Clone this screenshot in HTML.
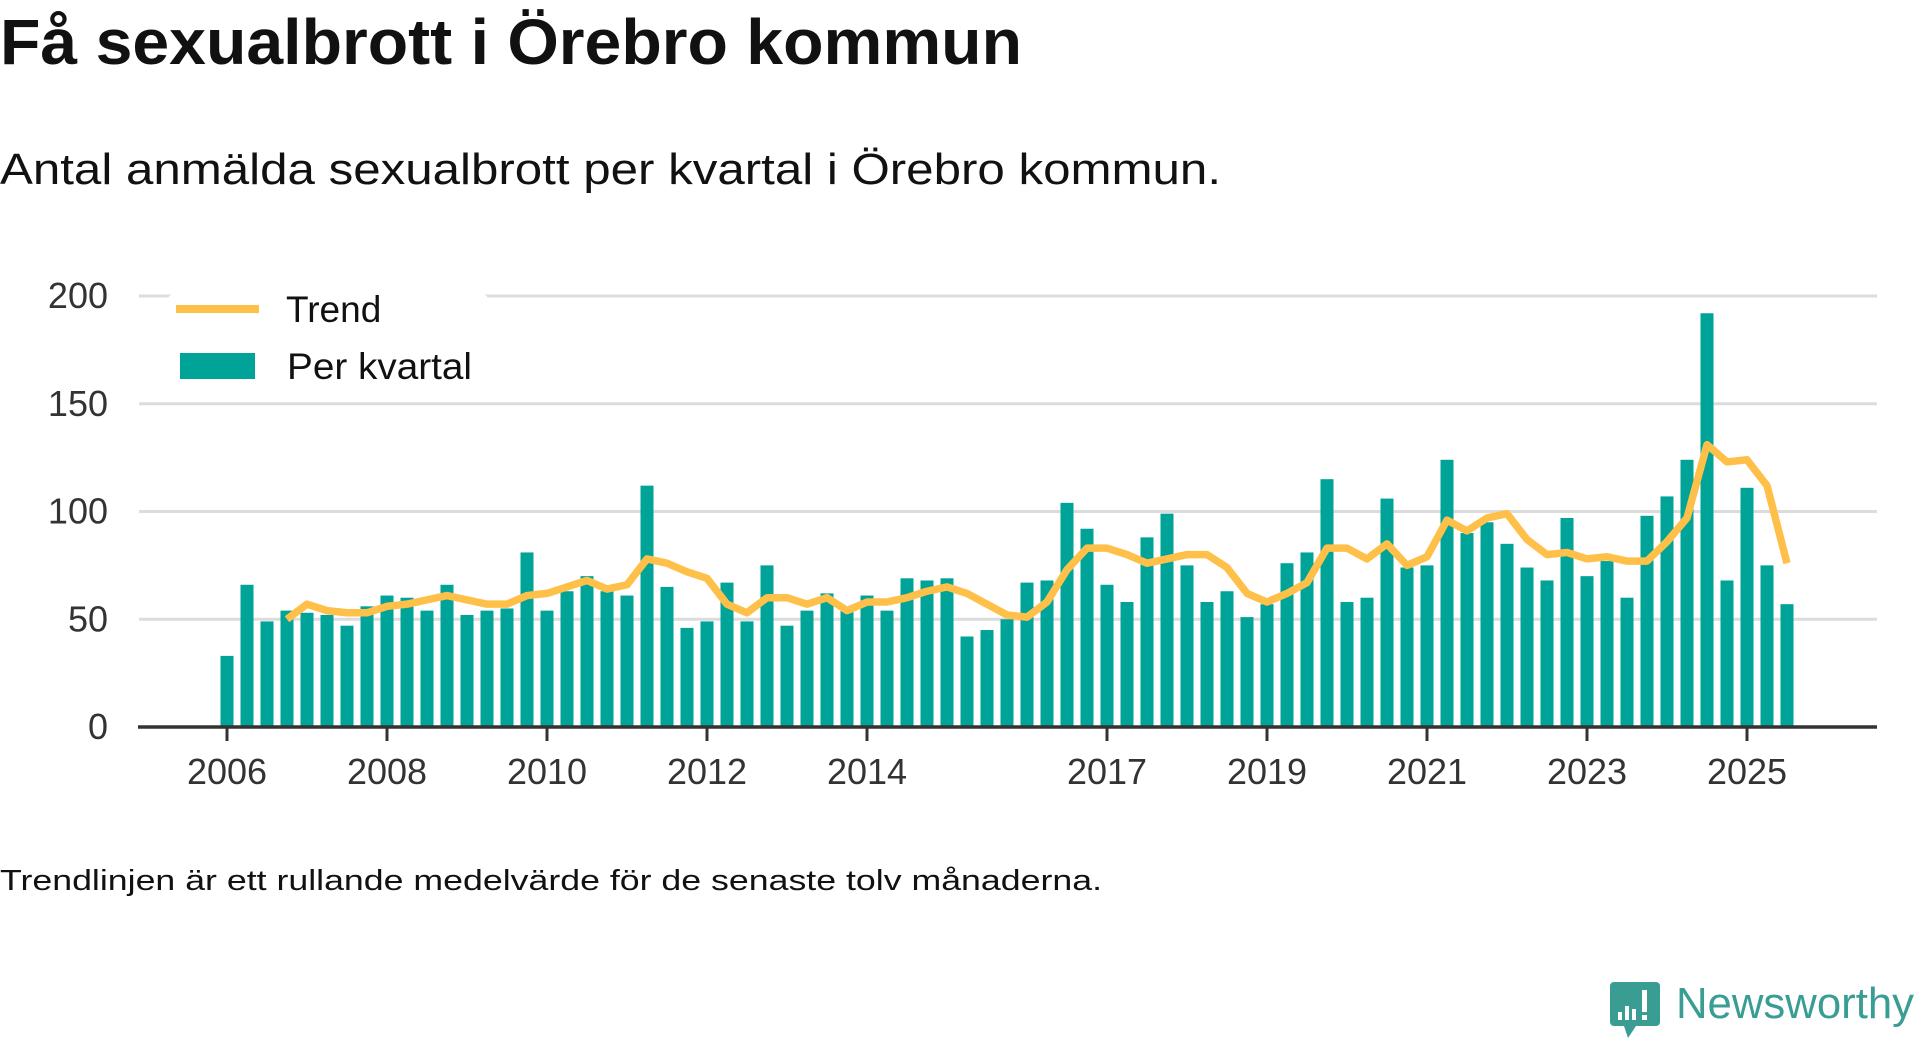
<!DOCTYPE html>
<html><head><meta charset="utf-8"><style>
html,body{margin:0;padding:0;background:#fff;width:1920px;height:1040px;overflow:hidden}
svg text{font-family:"Liberation Sans",sans-serif}
</style></head><body>
<svg id="chart" width="1920" height="1040" viewBox="0 0 1920 1040" xmlns="http://www.w3.org/2000/svg">
<text x="0" y="64" font-size="64" font-weight="bold" fill="#111" textLength="1022" lengthAdjust="spacingAndGlyphs">Få sexualbrott i Örebro kommun</text>
<text x="0" y="184" font-size="44" fill="#111" textLength="1221" lengthAdjust="spacingAndGlyphs">Antal anmälda sexualbrott per kvartal i Örebro kommun.</text>
<g id="grid"></g>
<g id="yticks"></g>
<g id="bars"></g>
<g id="trend"></g>
<g id="xaxis"></g>
<g>
  <rect x="168" y="294" width="320" height="108" rx="6" fill="#fff"/>
  <line x1="176" y1="309" x2="259" y2="309" stroke="#ffc04a" stroke-width="8"/>
  <text x="286" y="322" font-size="37" fill="#111">Trend</text>
  <rect x="180" y="353" width="75" height="26" fill="#00a398"/>
  <text x="287" y="379" font-size="37" fill="#111" textLength="185" lengthAdjust="spacingAndGlyphs">Per kvartal</text>
</g>
<text x="0" y="890" font-size="29" fill="#111" textLength="1102" lengthAdjust="spacingAndGlyphs">Trendlinjen är ett rullande medelvärde för de senaste tolv månaderna.</text>
<g>
  <path d="M1614 982 h42 a4 4 0 0 1 4 4 v36 a4 4 0 0 1 -4 4 h-20 l-8 12 l-4 -12 h-10 a4 4 0 0 1 -4 -4 v-36 a4 4 0 0 1 4 -4z" fill="#3a9d94"/>
  <rect x="1618" y="1012" width="4" height="8" fill="#fff"/>
  <rect x="1625" y="1006" width="4" height="14" fill="#fff"/>
  <rect x="1632" y="1009" width="4" height="11" fill="#fff"/>
  <rect x="1642" y="990" width="5" height="22" fill="#fff"/>
  <rect x="1642" y="1015" width="5" height="5" fill="#fff"/>
  <text x="1676" y="1018" font-size="44" fill="#3a9d94" textLength="238" lengthAdjust="spacingAndGlyphs">Newsworthy</text>
</g>
</svg>
<script>
const quarterValues = [33,66,49,54,53,52,47,56,61,60,54,66,52,54,55,81,54,63,70,63,61,112,65,46,49,67,49,75,47,54,62,55,61,54,69,68,69,42,45,50,67,68,104,92,66,58,88,99,75,58,63,51,57,76,81,115,58,60,106,74,75,124,90,95,85,74,68,97,70,77,60,98,107,124,192,68,111,75,57];
const trendValues = [null,null,null,50,57,54,53,53,56,57,59,61,59,57,57,61,62,65,68,64,66,78,76,72,69,57,53,60,60,57,60,54,58,58,60,63,65,62,57,52,51,58,73,83,83,80,76,78,80,80,74,62,58,62,67,83,83,78,85,75,79,96,91,97,99,87,80,81,78,79,77,77,86,97,131,123,124,112,76];
const yTicks = [0,50,100,150,200];
const xTickLabels = ["2006","2008","2010","2012","2014","2017","2019","2021","2023","2025"];
const xTickIndex = [0,8,16,24,32,44,52,60,68,76];

const NS="http://www.w3.org/2000/svg";
const x0=227, step=20, yBase=727, pxPerUnit=2.155;
function xPos(i){return x0+i*step;}
function yPos(v){return yBase-v*pxPerUnit;}
function mk(tag,attrs,parent){const e=document.createElementNS(NS,tag);for(const k in attrs)e.setAttribute(k,attrs[k]);parent.appendChild(e);return e;}

const grid=document.getElementById('grid'), yt=document.getElementById('yticks');
yTicks.forEach(v=>{
  if(v>0){const l=mk('line',{x1:139,x2:1877,y1:yPos(v),y2:yPos(v),stroke:'#dcdcdc','stroke-width':3},grid);
  
  }
  const t=mk('text',{x:108,y:yPos(v)+12,'text-anchor':'end','font-size':36,fill:'#333'},yt);
  t.textContent=v;
  
  
});
const bars=document.getElementById('bars');
quarterValues.forEach((v,i)=>{
  const r=mk('rect',{x:xPos(i)-6.5,y:yPos(v),width:13,height:v*pxPerUnit,fill:'#00a398'},bars);
  
  
});
let d='';
trendValues.forEach((v,i)=>{if(v==null)return;d+=(d?'L':'M')+xPos(i)+' '+yPos(v)+' ';});
const p=mk('path',{d:d,fill:'none',stroke:'#ffc04a','stroke-width':7.5,'stroke-linejoin':'round'},document.getElementById('trend'));


const xa=document.getElementById('xaxis');
const ax=mk('line',{x1:138,x2:1877,y1:yBase,y2:yBase,stroke:'#333','stroke-width':3.5},xa);


xTickLabels.forEach((lab,k)=>{
  const x=xPos(xTickIndex[k]);
  const tm=mk('line',{x1:x,x2:x,y1:yBase,y2:yBase+14,stroke:'#333','stroke-width':3},xa);
  
  
  const t=mk('text',{x:x,y:784,'text-anchor':'middle','font-size':36,fill:'#333'},xa);
  t.textContent=lab;
  
  
});
</script>
</body></html>
